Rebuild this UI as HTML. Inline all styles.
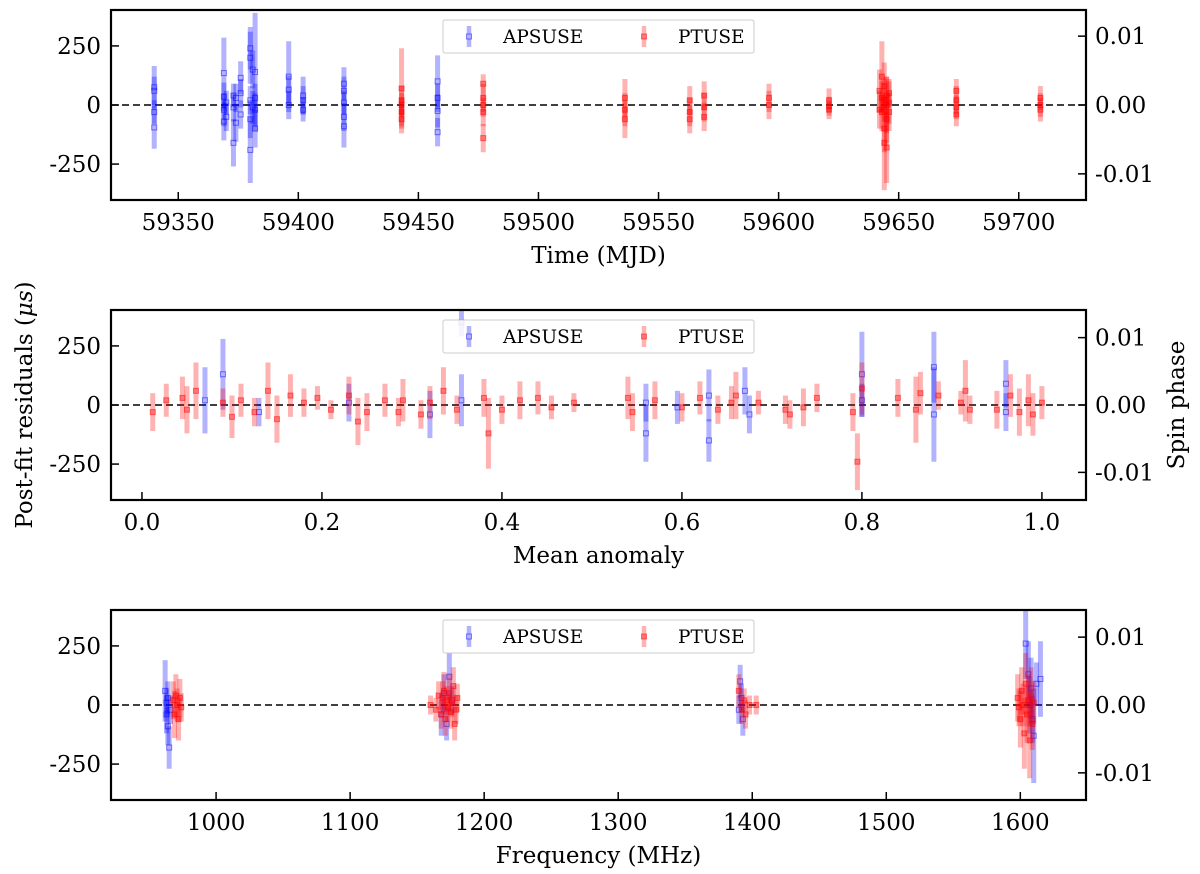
<!DOCTYPE html>
<html><head><meta charset="utf-8">
<style>
html,body{margin:0;padding:0;background:#fff;}
svg{display:block;font-family:"DejaVu Serif","Liberation Serif",serif;}
</style></head>
<body>
<svg id="fig" width="1200" height="874" viewBox="0 0 1200 874">
<text x="32" y="405" font-size="23" text-anchor="middle" transform="rotate(-90 32 405)">Post-fit residuals (<tspan font-style="italic">μs</tspan>)</text>
<text x="1184" y="405" font-size="23" text-anchor="middle" transform="rotate(-90 1184 405)">Spin phase</text>
</svg>
<script>
// ---- Panel 1: Time (MJD) ----
const p1BlueX=[59340,59340,59340,59340,59369,59369,59369,59369,59370,59370,59373,59373,59373,59374,59374,59376,59376,59376,59380,59380,59380,59380,59380,59381,59381,59382,59382,59382,59382,59396,59396,59396,59402,59402,59402,59419,59419,59419,59419,59419,59458,59458,59458,59458];
const p1BlueY=[75,60,-30,-95,135,35,-20,-70,10,-50,40,-10,-160,30,-75,115,50,-40,240,200,20,-60,-190,150,-10,140,30,-20,-100,120,65,0,40,20,-20,90,60,10,-50,-90,100,30,-25,-115];
const p1BlueE=[90,60,50,90,150,60,70,80,50,60,50,60,100,60,80,70,60,60,90,110,60,80,140,80,70,250,60,70,80,150,60,60,80,60,50,70,60,50,60,90,110,60,70,60];
const p1RedX=[59443,59443,59443,59443,59443,59477,59477,59477,59477,59477,59536,59536,59536,59563,59563,59563,59569,59569,59569,59596,59596,59621,59621,59621,59642,59643,59643,59644,59644,59644,59645,59645,59645,59646,59646,59642,59643,59644,59645,59646,59674,59674,59674,59674,59709,59709,59709];
const p1RedY=[70,20,0,-30,-60,90,30,0,-30,-140,30,-20,-60,20,-30,-60,40,-10,-50,30,0,20,-5,-20,60,120,-30,20,-100,-160,40,0,-60,10,-30,-20,30,80,-180,50,60,20,-10,-40,30,0,-20];
const p1RedE=[170,60,50,60,60,40,60,50,60,60,80,70,80,60,60,60,60,60,60,60,60,50,40,40,90,150,80,90,100,200,80,120,100,90,80,80,70,100,150,60,50,60,50,50,50,50,50];
// ---- Panel 2: Mean anomaly ----
const p2BlueX=[0.07,0.09,0.13,0.23,0.32,0.355,0.355,0.56,0.56,0.595,0.63,0.63,0.67,0.675,0.80,0.80,0.88,0.88,0.96,0.96];
const p2BlueY=[20,130,-30,10,-40,350,20,-120,10,-10,40,-150,60,-40,130,20,160,-40,90,-30];
const p2BlueE=[140,150,60,80,100,60,110,120,80,70,110,90,100,80,180,70,150,200,100,80];
const p2RedX=[0.012,0.027,0.045,0.05,0.06,0.09,0.1,0.11,0.125,0.14,0.15,0.165,0.18,0.195,0.21,0.23,0.24,0.25,0.27,0.285,0.29,0.31,0.32,0.335,0.35,0.38,0.385,0.4,0.42,0.44,0.455,0.48,0.54,0.545,0.57,0.6,0.62,0.64,0.655,0.66,0.685,0.715,0.72,0.735,0.75,0.79,0.795,0.80,0.84,0.86,0.865,0.885,0.91,0.915,0.92,0.95,0.965,0.975,0.985,0.99,1.0];
const p2RedY=[-30,20,30,-20,60,10,-50,20,-30,60,-60,40,10,30,-20,40,-70,-30,20,-30,20,-40,10,60,-20,30,-120,-20,20,30,-10,10,30,-30,20,-10,30,-20,10,40,10,-20,-40,-10,30,-30,-240,70,30,-20,50,40,10,60,-20,-20,40,-30,20,-40,10];
const p2RedE=[80,70,90,100,120,60,90,70,60,120,100,90,60,50,40,80,100,80,70,60,90,60,70,100,60,80,150,60,80,70,50,40,90,80,80,60,70,60,70,100,50,60,60,80,60,80,120,110,80,140,90,60,50,130,60,80,90,100,110,90,70];
// ---- Panel 3: Frequency ----
const p3BlueX=[962,963,963,964,964,965,966,1168,1170,1172,1174,1176,1390,1391,1392,1393,1604,1606,1607,1608,1609,1610,1612,1615];
const p3BlueY=[60,10,-40,-90,30,-180,-20,-40,50,-80,120,20,-20,100,30,-60,260,130,0,70,-60,-130,90,110];
const p3BlueE=[130,60,80,80,70,90,60,90,80,70,100,60,60,70,60,70,150,140,120,130,100,200,90,160];
const p3RedX=[968,969,970,971,972,973,974,1160,1164,1166,1168,1169,1170,1171,1172,1173,1174,1175,1176,1177,1178,1179,1180,1390,1392,1394,1395,1398,1403,1598,1599,1600,1601,1602,1603,1604,1605,1606,1607,1608,1609,1610];
const p3RedY=[20,-40,40,0,-60,30,-10,0,-20,40,-40,30,60,-60,20,-10,50,-30,10,80,-80,-20,30,60,-20,20,-40,0,0,30,-10,-60,60,0,-120,90,-40,20,-150,40,-80,10];
const p3RedE=[80,100,90,70,90,80,60,40,50,60,60,70,80,70,60,60,80,70,60,80,70,60,60,70,60,50,60,40,40,100,80,120,100,90,150,130,120,110,160,120,110,90];

const NS='http://www.w3.org/2000/svg';
const svg=document.getElementById('fig');
function mk(tag,attrs,parent){const e=document.createElementNS(NS,tag);for(const k in attrs)e.setAttribute(k,attrs[k]);(parent||svg).appendChild(e);return e;}

const panels=[
 {top:10,bot:200,xmin:59322,xmax:59728,xticks:[59350,59400,59450,59500,59550,59600,59650,59700],xfmt:v=>String(v),title:'Time (MJD)',bx:p1BlueX,by:p1BlueY,be:p1BlueE,rx:p1RedX,ry:p1RedY,re:p1RedE,ymax:402,rmax:0.0138},
 {top:310,bot:500,xmin:-0.0344,xmax:1.049,xticks:[0,0.2,0.4,0.6,0.8,1.0],xfmt:v=>v.toFixed(1),title:'Mean anomaly',bx:p2BlueX,by:p2BlueY,be:p2BlueE,rx:p2RedX,ry:p2RedY,re:p2RedE,ymax:402,rmax:0.0141},
 {top:610,bot:800,xmin:921.6,xmax:1649,xticks:[1000,1100,1200,1300,1400,1500,1600],xfmt:v=>String(v),title:'Frequency (MHz)',bx:p3BlueX,by:p3BlueY,be:p3BlueE,rx:p3RedX,ry:p3RedY,re:p3RedE,ymax:402,rmax:0.0140}
];
const L=111,R=1086;
const yticks=[250,0,-250], ylabs=['250','0','-250'];
const rticks=[0.01,0,-0.01], rlabs=['0.01','0.00','-0.01'];

panels.forEach((p,i)=>{
 const g=mk('g',{});
 
 
 const sx=v=>L+(v-p.xmin)/(p.xmax-p.xmin)*(R-L);
 const mid=(p.top+p.bot)/2, h=(p.bot-p.top)/2;
 const sy=v=>mid-v/p.ymax*h;
 const sr=v=>mid-v/p.rmax*h;
 const clip='clip'+i;
 const cp=mk('clipPath',{id:clip},g);mk('rect',{x:L,y:p.top,width:R-L,height:p.bot-p.top},cp);
 mk('line',{x1:L,x2:R,y1:sy(0),y2:sy(0),stroke:'#000','stroke-width':1.5,'stroke-dasharray':'7,4'},g);
 const dg=mk('g',{'clip-path':'url(#'+clip+')'},g);
 function series(xs,ys,es,col,name,filled){
  const sg=mk('g',{},dg);
  
  
  xs.forEach((x,j)=>{
   const X=sx(x),Y=sy(ys[j]);
   mk('line',{x1:X,x2:X,y1:sy(ys[j]+es[j]),y2:sy(ys[j]-es[j]),stroke:col,'stroke-width':5,'stroke-opacity':0.3},sg);
   mk('rect',{x:X-2.5,y:Y-2.5,width:5,height:5,fill:filled?col:'none','fill-opacity':0.35,stroke:col,'stroke-opacity':0.5,'stroke-width':1},sg);
  });
 }
 series(p.bx,p.by,p.be,'#0000ff','apsuse-series',false);
 series(p.rx,p.ry,p.re,'#ff0000','ptuse-series',true);
 mk('rect',{x:L,y:p.top,width:R-L,height:p.bot-p.top,fill:'none',stroke:'#000','stroke-width':2.2},g);
 p.xticks.forEach(t=>{const X=sx(t);
  mk('line',{x1:X,x2:X,y1:p.bot,y2:p.bot-8,stroke:'#000','stroke-width':1.5},g);
  const tx=mk('text',{x:X,y:p.bot+30,'font-size':23,'text-anchor':'middle'},g);tx.textContent=p.xfmt(t);
  
  
 });
 yticks.forEach((t,k)=>{const Y=sy(t);
  mk('line',{x1:L,x2:L+8,y1:Y,y2:Y,stroke:'#000','stroke-width':1.5},g);
  const tx=mk('text',{x:L-10,y:Y+8,'font-size':23,'text-anchor':'end'},g);tx.textContent=ylabs[k];
  
  
 });
 rticks.forEach((t,k)=>{const Y=sr(t);
  mk('line',{x1:R,x2:R-8,y1:Y,y2:Y,stroke:'#000','stroke-width':1.5},g);
  const tx=mk('text',{x:R+9,y:Y+8,'font-size':23,'text-anchor':'start'},g);tx.textContent=rlabs[k];
  
  
 });
 const xt=mk('text',{x:(L+R)/2,y:p.bot+63,'font-size':23,'text-anchor':'middle'},g);xt.textContent=p.title;
 
 
 // legend
 const lg=mk('g',{},g);
 
 
 const ly=p.top+10;
 mk('rect',{x:443,y:ly,width:311,height:33,fill:'#fff','fill-opacity':0.85,stroke:'#ccc','stroke-width':1,rx:2},lg);
 mk('line',{x1:469,x2:469,y1:ly+6,y2:ly+27,stroke:'#0000ff','stroke-width':4.5,'stroke-opacity':0.3},lg);
 mk('rect',{x:466.5,y:ly+14,width:5,height:5,fill:'none',stroke:'#0000ff','stroke-opacity':0.5},lg);
 mk('line',{x1:644,x2:644,y1:ly+6,y2:ly+27,stroke:'#ff0000','stroke-width':4.5,'stroke-opacity':0.3},lg);
 mk('rect',{x:641.5,y:ly+14,width:5,height:5,fill:'#ff0000','fill-opacity':0.35,stroke:'#ff0000','stroke-opacity':0.5},lg);
 const t1=mk('text',{x:503,y:ly+23,'font-size':18.5},lg);t1.textContent='APSUSE';
 
 
 const t2=mk('text',{x:678,y:ly+23,'font-size':18.5},lg);t2.textContent='PTUSE';
 
 
});
</script>
</body></html>
